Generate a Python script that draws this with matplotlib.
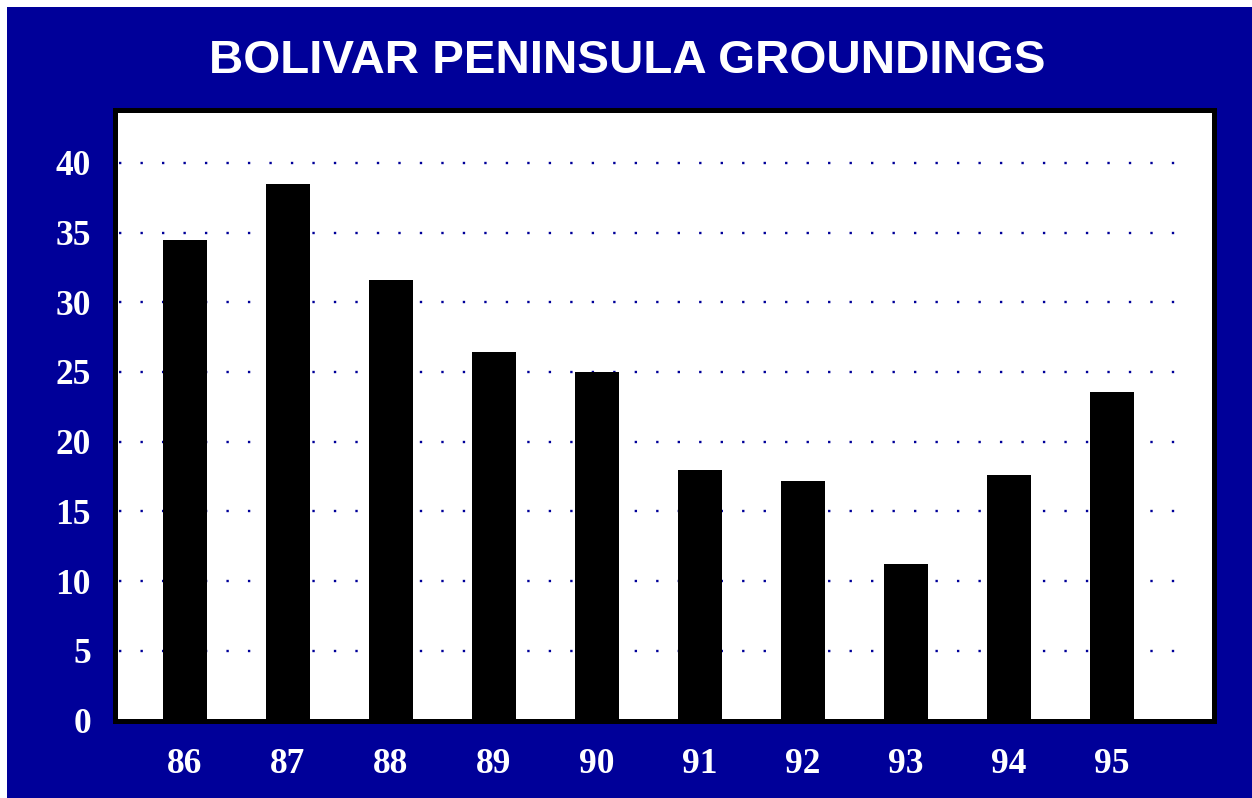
import matplotlib
matplotlib.use("Agg")
import matplotlib.pyplot as plt
from matplotlib.patches import Rectangle

years = ["86", "87", "88", "89", "90", "91", "92", "93", "94", "95"]
groundings = [34.5, 38.5, 31.6, 26.4, 25.0, 18.0, 17.2, 11.2, 17.6, 23.6]
yticks = [0, 5, 10, 15, 20, 25, 30, 35, 40]
title = "BOLIVAR PENINSULA GROUNDINGS"

W, H = 1252, 798
BLUE = "#000099"
fig = plt.figure(figsize=(W / 100, H / 100), dpi=100)
fig.patch.set_facecolor("white")
bg = Rectangle((7 / W, 0), 1 - 7 / W, 1 - 7 / H, transform=fig.transFigure,
               facecolor=BLUE, edgecolor="none", zorder=-10)
fig.add_artist(bg)

ax = fig.add_axes([114.5 / W, 1 - 720.5 / H, (1213.5 - 114.5) / W, (720.5 - 109.5) / H])
ax.set_zorder(1)
ax.set_facecolor("white")
x = list(range(len(years)))
ax.bar(x, groundings, width=0.43, color="black", zorder=3)
ax.set_xlim(-0.684, 9.985)
ax.set_ylim(0, 43.83)
ax.set_xticks(x)
ax.set_xticklabels(years)
ax.set_yticks(yticks)
ax.set_yticklabels([str(v) for v in yticks])
ax.hlines(yticks[1:], -0.64, 9.78, colors=BLUE, lw=1.7, linestyles=[(0, (1, 8.1))], zorder=1)
for s in ax.spines.values():
    s.set_linewidth(3.6)
    s.set_color("black")
    s.set_zorder(5)
ax.tick_params(length=0, labelcolor="white")
ax.tick_params(axis="x", pad=20)
ax.tick_params(axis="y", pad=17)
for lab in ax.get_xticklabels() + ax.get_yticklabels():
    lab.set_fontfamily("Liberation Serif")
    lab.set_fontweight("bold")
    lab.set_fontsize(25.5)

fig.text(627.5 / W, 1 - 73 / H, title, ha="center", va="baseline", color="white",
         fontsize=34.2, fontweight="bold", family="Liberation Sans")

fig.savefig("out.png", dpi=100, facecolor=fig.get_facecolor())
